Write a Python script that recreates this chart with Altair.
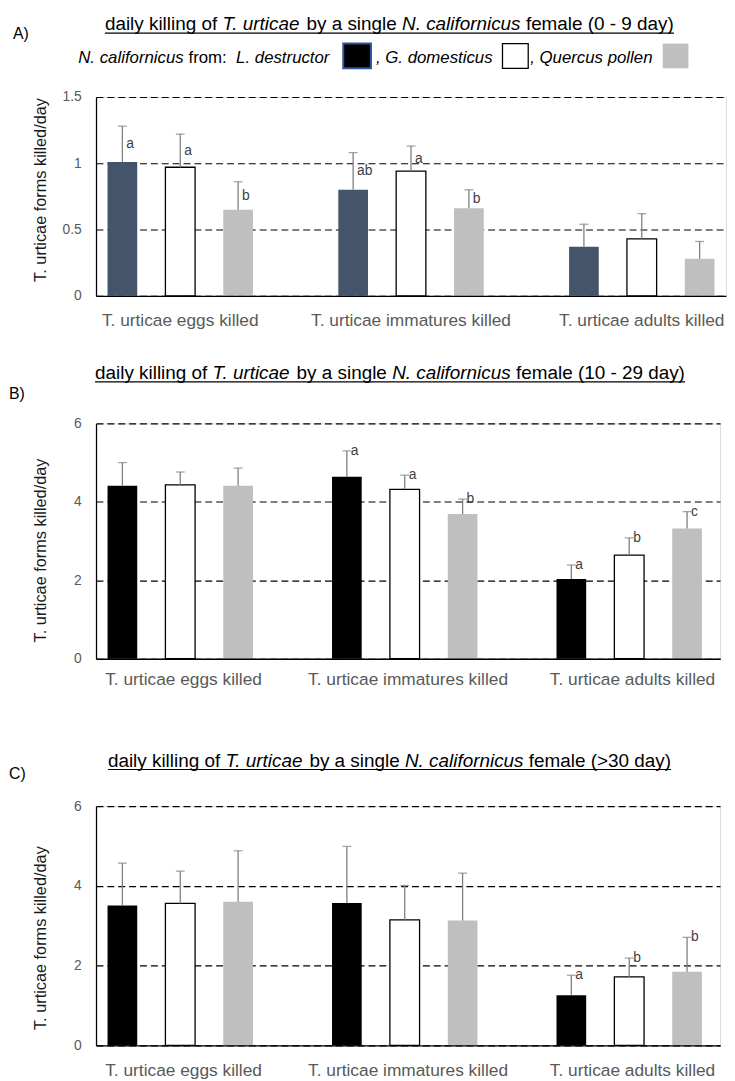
import altair as alt
import pandas as pd

# ---------------- data ----------------
groups = ["L. destructor", "G. domesticus", "Quercus pollen"]
stages = ["T. urticae eggs killed", "T. urticae immatures killed", "T. urticae adults killed"]

# Panel A (0 - 9 day): rows = stages, cols = groups
a_mean = [[1.01, 0.97, 0.65], [0.80, 0.94, 0.66], [0.37, 0.43, 0.28]]
a_se = [[0.27, 0.25, 0.21], [0.28, 0.19, 0.14], [0.17, 0.19, 0.13]]
a_letters = [["a", "a", "b"], ["ab", "a", "b"], ["", "", ""]]

# Panel B (10 - 29 day)
b_mean = [[4.41, 4.43, 4.41], [4.64, 4.32, 3.69], [2.03, 2.64, 3.32]]
b_se = [[0.59, 0.33, 0.45], [0.66, 0.36, 0.38], [0.36, 0.44, 0.43]]
b_letters = [["", "", ""], ["a", "a", "b"], ["a", "b", "c"]]

# Panel C (>30 day)
c_mean = [[3.51, 3.56, 3.60], [3.57, 3.15, 3.13], [1.26, 1.72, 1.85]]
c_se = [[1.06, 0.81, 1.28], [1.42, 0.86, 1.19], [0.50, 0.47, 0.86]]
c_letters = [["", "", ""], ["", "", ""], ["a", "b", "b"]]

a_ticks = [0, 0.5, 1, 1.5]
bc_ticks = [0, 2, 4, 6]

a_title = ["daily killing of", "T. urticae", "by a single", "N. californicus", "female (0 - 9 day)"]
b_title = ["daily killing of", "T. urticae", "by a single", "N. californicus", "female (10 - 29 day)"]
c_title = ["daily killing of", "T. urticae", "by a single", "N. californicus", "female (>30 day)"]
y_title = "T. urticae forms killed/day"

# ---------------- helpers ----------------
FONT = "Liberation Sans"
AW = {' ': 278, 'a': 556, 'b': 556, 'c': 500, 'd': 556, 'e': 556, 'f': 278, 'g': 556, 'h': 556,
      'i': 222, 'j': 222, 'k': 500, 'l': 222, 'm': 833, 'n': 556, 'o': 556, 'p': 556, 'q': 556,
      'r': 333, 's': 500, 't': 278, 'u': 556, 'v': 500, 'w': 722, 'x': 500, 'y': 500, 'z': 500,
      'A': 667, 'B': 667, 'C': 722, 'G': 778, 'L': 556, 'N': 722, 'Q': 778, 'T': 611,
      '.': 278, ',': 278, ':': 278, '(': 333, ')': 333, '-': 333, '>': 584, '/': 278}


def tw(s, size):
    return sum(AW.get(c, 556) for c in s) * size / 1000.0


OX = 96  # page x of plot origin
ONE = pd.DataFrame({"k": [0]})


def make_df(mean, se, letters, letter_mid):
    rows = []
    for si, st in enumerate(stages):
        for gi, g in enumerate(groups):
            m = mean[si][gi]
            e = se[si][gi]
            rows.append({"stage": st, "group": g, "mean": m, "top": m + e,
                         "letter": letters[si][gi],
                         "ly": m + e / 2 if letter_mid else m + e})
    return pd.DataFrame(rows)


def text_at(s, x_page, y_page, top, size, italic=False, color="black"):
    return alt.Chart(ONE).mark_text(
        text=s, align="left", baseline="alphabetic", font=FONT, fontSize=size,
        fontStyle="italic" if italic else "normal", color=color
    ).encode(x=alt.value(x_page - OX), y=alt.value(y_page - top))


def hrule(x1, x2, y_page, top, color="black", w=1.2):
    return alt.Chart(ONE).mark_rule(color=color, strokeWidth=w).encode(
        x=alt.value(x1 - OX), x2=alt.value(x2 - OX), y=alt.value(y_page - top))


def box(x1, x2, y1, y2, top, fill, stroke, sw):
    return alt.Chart(ONE).mark_rect(fill=fill, stroke=stroke, strokeWidth=sw).encode(
        x=alt.value(x1 - OX), x2=alt.value(x2 - OX),
        y=alt.value(y1 - top), y2=alt.value(y2 - top))


def title_layers(parts, x0, baseline, underline_y, top, size=19.1):
    layers = []
    x = x0
    for i, p in enumerate(parts):
        layers.append(text_at(p, x, baseline, top, size, italic=(i % 2 == 1)))
        x += tw(p + " ", size)
    end = x - tw(" ", size)
    layers.append(hrule(x0, end, underline_y, top))
    return layers


def panel(df, colors, ymax, ticks, width, height, top, x_pad, off_inner, off_outer,
          lab_pad, title_dy, annotations):
    base = alt.Chart(df)
    x_axis = alt.Axis(title=None, labelAngle=0, ticks=False, tickSize=0, labelPadding=lab_pad,
                      labelFontSize=17.5, labelColor="#595959", labelFont=FONT,
                      domainColor="black", domainWidth=1.3, grid=False, labelLimit=400, zindex=1)
    x = alt.X("stage:N", sort=stages, scale=alt.Scale(paddingInner=x_pad, paddingOuter=0), axis=x_axis)
    xo = alt.XOffset("group:N", sort=groups,
                     scale=alt.Scale(paddingInner=off_inner, paddingOuter=off_outer))
    y_axis = alt.Axis(values=ticks, format="~g", title=y_title, titleFont=FONT, titleFontSize=16.5,
                      titleFontWeight="normal", titleColor="#1a1a1a", titleX=-56,
                      titleY=height / 2 + title_dy, titleAlign="center", titleBaseline="middle",
                      titleAngle=270, labelFont=FONT, labelFontSize=14, labelColor="#595959",
                      labelPadding=15, ticks=False, tickSize=0, domainColor="black", domainWidth=1.3,
                      grid=True, gridColor="black", gridDash=[7, 4], gridWidth=1.2)
    yscale = alt.Scale(domain=[0, ymax], nice=False, zero=True)
    is_white = alt.datum.group == groups[1]
    bars = base.mark_bar(stroke="black").encode(
        x=x, xOffset=xo,
        y=alt.Y("mean:Q", scale=yscale, axis=y_axis, title=y_title),
        fill=alt.Fill("group:N", scale=alt.Scale(domain=groups, range=colors), legend=None),
        strokeWidth=alt.condition(is_white, alt.value(1.3), alt.value(0)),
    )
    err = base.mark_rule(color="#7f7f7f", strokeWidth=1.3).encode(
        x=alt.X("stage:N", sort=stages), xOffset=xo,
        y=alt.Y("mean:Q", title=y_title), y2="top:Q")
    caps = base.mark_tick(color="#7f7f7f", thickness=1.3, size=9).encode(
        x=alt.X("stage:N", sort=stages), xOffset=xo, y=alt.Y("top:Q", title=y_title))
    letters = base.mark_text(align="left", baseline="middle", dx=4, font=FONT, fontSize=14,
                             color="#404040").encode(
        x=alt.X("stage:N", sort=stages), xOffset=xo, y=alt.Y("ly:Q", title=y_title),
        text="letter:N")
    return alt.layer(bars, err, caps, letters, *annotations).properties(width=width, height=height)


# ---------------- panel A ----------------
TOP_A = 95
ann_a = title_layers(a_title, 105, 27, 30.5, TOP_A)
ann_a.append(text_at("A)", 12, 36, TOP_A, 16))
LS = 17
lx = 78
ann_a.append(text_at("N. californicus", lx, 61, TOP_A, LS, italic=True))
lx += tw("N. californicus ", LS)
ann_a.append(text_at("from:", lx, 61, TOP_A, LS))
lx += tw("from:  ", LS)
ann_a.append(text_at("L. destructor", lx, 61, TOP_A, LS, italic=True))
ann_a.append(box(346, 374, 41, 66, TOP_A, "black", "#2F5597", 2))
ann_a.append(text_at(", G. domesticus", 379, 61, TOP_A, LS, italic=True))
ann_a.append(box(507, 533, 41, 66, TOP_A, "white", "black", 1.3))
ann_a.append(text_at(", Quercus pollen", 535, 61, TOP_A, LS, italic=True))
ann_a.append(box(669, 695, 41, 66, TOP_A, "#BFBFBF", "#BFBFBF", 0))

pA = panel(make_df(a_mean, a_se, a_letters, True), ["#44546A", "white", "#BFBFBF"], 1.5, a_ticks,
           637, 201, TOP_A, 0.27, 0.487, 0.199, 16, -7, ann_a)

# ---------------- panel B ----------------
TOP_B = 423
ann_b = title_layers(b_title, 95, 378, 381, TOP_B)
ann_b.append(text_at("B)", 8, 398, TOP_B, 16))
pB = panel(make_df(b_mean, b_se, b_letters, False), ["black", "white", "#BFBFBF"], 6, bc_ticks,
           631, 238, TOP_B, 0.22, 0.491, 0.298, 12, 9, ann_b)

# ---------------- panel C ----------------
TOP_C = 805
ann_c = title_layers(c_title, 108, 765, 768, TOP_C)
ann_c.append(text_at("C)", 8, 778, TOP_C, 16))
pC = panel(make_df(c_mean, c_se, c_letters, False), ["black", "white", "#BFBFBF"], 6, bc_ticks,
           631, 242, TOP_C, 0.22, 0.491, 0.298, 16, 12, ann_c)

inner = alt.vconcat(pB, pC, spacing=63)
chart = alt.vconcat(pA, inner, spacing=34).resolve_scale(fill="independent").properties(
    padding={"left": 0, "top": 0, "right": 0, "bottom": 0}
).configure_view(stroke=None).configure(background="white")

chart.save("out.html", embed_options={"renderer": "svg", "actions": False})
